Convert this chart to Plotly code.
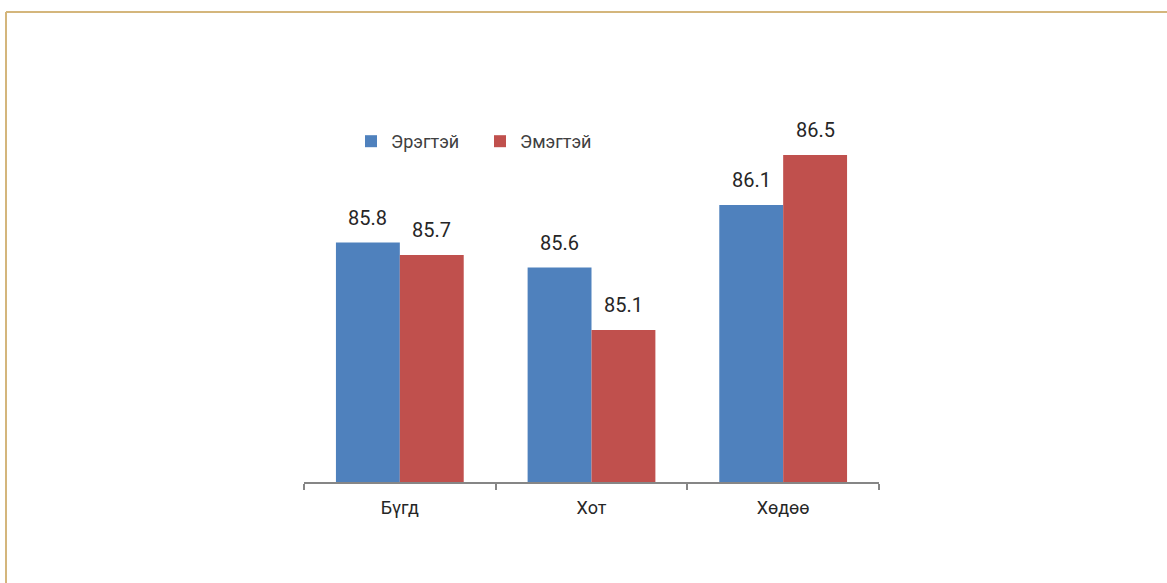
import plotly.graph_objects as go

# Categories and values per sex
categories = ["Бүгд", "Хот", "Хөдөө"]
male_values = [85.8, 85.6, 86.1]
female_values = [85.7, 85.1, 86.5]
series_names = ["Эрэгтэй", "Эмэгтэй"]

BLUE = "#4f81bd"
RED = "#c0504d"
FONT = "Roboto, Open Sans, sans-serif"

W, H = 1167, 583
ml, mr, mt, mb = 304, 288, 100, 101
plot_w = W - ml - mr
plot_h = H - mt - mb

y0 = 83.884
y1 = y0 + plot_h / 125.0

fig = go.Figure()
fig.add_trace(go.Bar(x=categories, y=male_values, name=series_names[0],
                     marker=dict(color=BLUE, line=dict(width=0))))
fig.add_trace(go.Bar(x=categories, y=female_values, name=series_names[1],
                     marker=dict(color=RED, line=dict(width=0))))

# value labels above each bar
for i, cat in enumerate(categories):
    for vals, off in ((male_values, -0.5), (female_values, 0.5)):
        fig.add_annotation(x=i + off / 3, y=vals[i], xref="x", yref="y",
                           text=f"{vals[i]:.1f}", showarrow=False,
                           yanchor="bottom", yshift=11,
                           font=dict(family=FONT, size=20, color="#262626"))

def px_x(p):
    return (p - ml) / plot_w

def px_y(p):
    return (H - mb - p) / plot_h

# frame lines along the top and left edges
line_col = "#d4b67c"
fig.add_shape(type="line", xref="paper", yref="paper",
              x0=px_x(6), x1=px_x(W), y0=px_y(12), y1=px_y(12),
              line=dict(color=line_col, width=2))
fig.add_shape(type="line", xref="paper", yref="paper",
              x0=px_x(6), x1=px_x(6), y0=px_y(12), y1=px_y(H),
              line=dict(color=line_col, width=2))

fig.update_layout(
    width=W, height=H,
    margin=dict(l=ml, r=mr, t=mt, b=mb),
    paper_bgcolor="white", plot_bgcolor="white",
    barmode="group", bargap=1/3, bargroupgap=0,
    showlegend=True,
    legend=dict(orientation="h", x=px_x(351), y=px_y(141.5), xanchor="left",
                yanchor="middle", font=dict(family=FONT, size=18, color="#404040"),
                itemwidth=30, entrywidth=84, entrywidthmode="pixels",
                bgcolor="rgba(0,0,0,0)"),
    xaxis=dict(showline=True, linecolor="#868686", linewidth=2,
               ticks="outside", ticklen=6, tickcolor="#868686", tickwidth=1.5,
               tickson="boundaries", showgrid=False, ticklabelstandoff=8,
               tickfont=dict(family=FONT, size=18, color="#262626")),
    yaxis=dict(range=[y0, y1], visible=False, showgrid=False, zeroline=False),
)

fig.write_html("out.html")
